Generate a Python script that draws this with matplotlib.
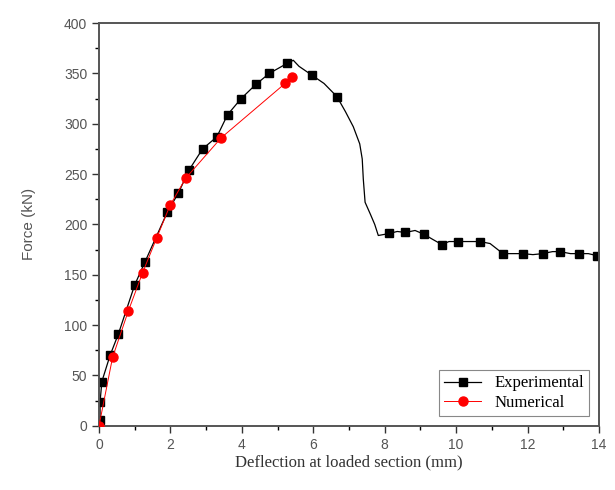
import matplotlib.pyplot as plt
import numpy as np

# experimental curve (line points), markers on a subset
exp_x = [0, 0.03, 0.03, 0.08, 0.31, 0.54, 1.0, 1.29, 1.91, 2.22, 2.52, 2.90, 3.30,
         3.60, 3.98, 4.39, 4.77, 5.27, 5.44, 5.6, 5.97, 6.3, 6.66, 6.9, 7.12, 7.3,
         7.37, 7.40, 7.45, 7.6, 7.72, 7.82, 8.13, 8.35, 8.58, 8.85, 9.11, 9.35, 9.60,
         9.8, 10.06, 10.4, 10.67, 10.95, 11.31, 11.6, 11.86, 12.15, 12.42, 12.7,
         12.91, 13.2, 13.43, 13.7, 13.94]
exp_f = [0, 6, 24, 44, 70, 91, 140, 163, 212, 231, 254, 275, 287,
         309, 325, 339, 350, 360, 363, 357, 348, 340, 327, 312, 297, 280,
         265, 245, 222, 210, 200, 189, 191, 193, 192, 194, 190, 185, 180,
         183, 183, 183, 183, 181, 171, 171, 171, 170, 171, 173,
         173, 171, 171, 171, 169]
exp_marks = [1, 2, 3, 4, 5, 6, 7, 8, 9, 10, 11, 12, 13, 14, 15, 16, 17, 20, 22,
             32, 34, 36, 38, 40, 42, 44, 46, 48, 50, 52, 54]

num_x = [0, 0.38, 0.82, 1.22, 1.62, 1.99, 2.43, 3.42, 5.21, 5.40]
num_f = [0, 68, 114, 152, 187, 219, 246, 286, 340, 346]

fig = plt.figure(figsize=(6.15, 4.9), dpi=100)
ax = fig.add_axes([0.161, 0.131, 0.813, 0.822])

ax.plot(exp_x, exp_f, color='black', linewidth=0.9, marker='s', markersize=5.5,
        markevery=exp_marks, label='Experimental', zorder=2)
ax.plot(num_x, num_f, color='red', linewidth=0.7, marker='o', markersize=6.5,
        label='Numerical', zorder=3)

ax.set_xlim(0, 14)
ax.set_ylim(0, 400)
ax.set_xticks(np.arange(0, 15, 2))
ax.set_xticks(np.arange(1, 14, 2), minor=True)
ax.set_yticks(np.arange(0, 401, 50))
ax.set_yticks(np.arange(25, 400, 50), minor=True)
ax.tick_params(direction='out', length=5, width=1, labelsize=10, colors='#333333')
ax.tick_params(which='minor', direction='out', length=3, width=1)
for lab in ax.get_xticklabels() + ax.get_yticklabels():
    lab.set_family('Liberation Sans')
    lab.set_color('#555555')
for s in ax.spines.values():
    s.set_color('#555555')
    s.set_linewidth(1.4)

ax.set_xlabel('Deflection at loaded section (mm)', family='Liberation Serif',
              fontsize=12, color='#333333', labelpad=2)
ax.set_ylabel('Force (kN)', family='Liberation Sans', fontsize=11,
              color='#555555', labelpad=20)

leg = ax.legend(loc='lower right', prop={'family': 'Liberation Serif', 'size': 12},
                fancybox=False, edgecolor='#888888', framealpha=1,
                handlelength=2.2, borderaxespad=0.6, labelspacing=0.2,
                borderpad=0.3)
leg.get_frame().set_linewidth(0.8)

fig.savefig('out.png', dpi=100)
